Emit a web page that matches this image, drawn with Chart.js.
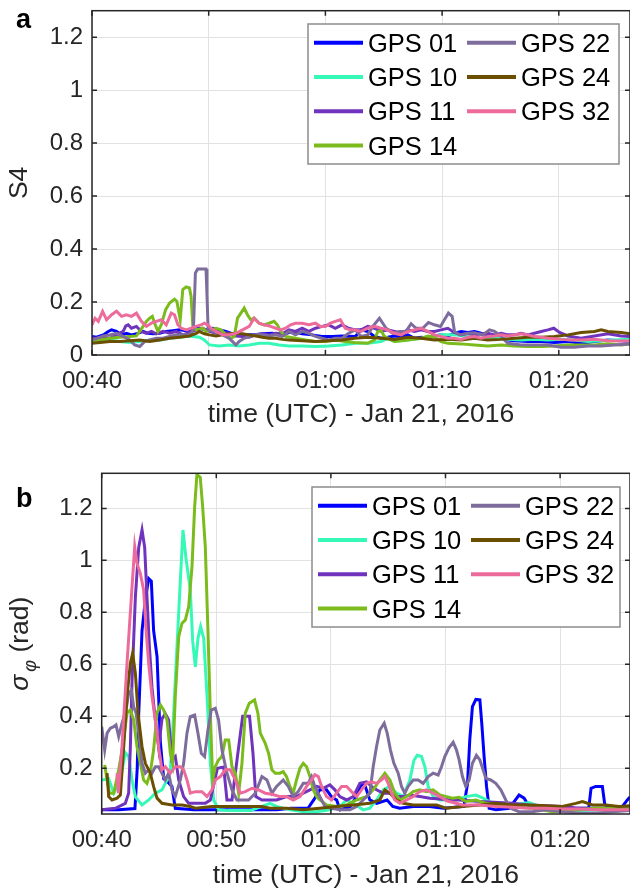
<!DOCTYPE html>
<html>
<head>
<meta charset="utf-8">
<script src="https://cdn.jsdelivr.net/npm/chart.js@4.4.1/dist/chart.umd.min.js"></script>
<style>
  html, body { margin: 0; padding: 0; background: #fff; overflow: hidden; }
  #wrap { position: relative; width: 630px; height: 891px; }
  canvas { position: absolute; left: 0; }
  #chartA { top: 0; }
  #chartB { top: 445px; }
</style>
</head>
<body>
<div id="wrap">
  <canvas id="chartA" width="630" height="445"></canvas>
  <canvas id="chartB" width="630" height="446"></canvas>
</div>
<script>
// Satellites (legend order, same in both panels)
const satLabels = ['GPS 01', 'GPS 10', 'GPS 11', 'GPS 14', 'GPS 22', 'GPS 24', 'GPS 32'];
const satColors = ['#0000ff', '#36f9b8', '#7033be', '#7bbb1c', '#7e6d9c', '#6b4f00', '#ec6b9b'];

// x axis: minutes after 00:40 UTC
const timeTicks = [0, 10, 20, 30, 40];
const timeTickLabels = ['00:40', '00:50', '01:00', '01:10', '01:20'];
const s4Ticks = [0, 0.2, 0.4, 0.6, 0.8, 1, 1.2];
const s4TickLabels = ['0', '0.2', '0.4', '0.6', '0.8', '1', '1.2'];
const phiTicks = [0.2, 0.4, 0.6, 0.8, 1, 1.2];
const phiTickLabels = ['0.2', '0.4', '0.6', '0.8', '1', '1.2'];

// Panel a - S4, points are [minutes after 00:40, value]
const s4Gps01 = [[0,0.07],[0.4,0.067],[0.97,0.076],[1.39,0.089],[1.68,0.095],[2.1,0.089],[2.53,0.076],[2.95,0.082],[3.38,0.076],[3.81,0.08],[4.38,0.089],[4.8,0.082],[5.23,0.08],[5.8,0.082],[6.36,0.089],[6.93,0.092],[7.5,0.095],[8.07,0.092],[8.64,0.098],[9.2,0.101],[9.77,0.095],[10.34,0.101],[10.91,0.095],[11.48,0.089],[12.05,0.08],[12.9,0.076],[13.75,0.076],[14.6,0.08],[15.45,0.082],[16.31,0.076],[17.16,0.089],[18.01,0.08],[18.86,0.076],[19.72,0.07],[20.57,0.07],[21.42,0.072],[22.56,0.07],[23.06,0.095],[23.63,0.089],[24.2,0.07],[24.77,0.063],[25.34,0.067],[25.91,0.072],[26.49,0.07],[27.06,0.076],[27.63,0.063],[28.2,0.067],[28.77,0.063],[29.34,0.072],[29.91,0.076],[30.49,0.072],[31.06,0.082],[31.63,0.089],[32.2,0.085],[32.77,0.089],[33.34,0.082],[33.91,0.076],[34.49,0.07],[35.06,0.063],[35.63,0.057],[36.2,0.054],[37.34,0.051],[38.49,0.051],[39.63,0.047],[40.77,0.051],[41.91,0.044],[43.06,0.051],[44.2,0.057],[45.34,0.054],[46.1,0.051]];
const s4Gps10 = [[0,0.057],[0.68,0.059],[1.53,0.057],[2.39,0.051],[3.24,0.047],[4.09,0.051],[4.94,0.057],[5.8,0.057],[6.65,0.063],[7.5,0.067],[8.35,0.072],[9.2,0.067],[9.63,0.057],[10.06,0.038],[10.91,0.034],[11.76,0.038],[12.61,0.034],[13.47,0.038],[14.32,0.044],[15.17,0.044],[16.02,0.038],[16.88,0.034],[18.01,0.034],[19.15,0.032],[20.28,0.034],[21.42,0.038],[22.56,0.044],[23.63,0.044],[24.77,0.051],[25.34,0.063],[25.91,0.051],[27.06,0.057],[28.2,0.063],[29.34,0.07],[29.91,0.076],[31.06,0.076],[32.2,0.07],[33.34,0.063],[34.49,0.067],[35.63,0.059],[36.77,0.057],[37.91,0.059],[39.06,0.057],[40.2,0.059],[41.34,0.057],[42.49,0.051],[43.63,0.054],[44.77,0.057],[46.1,0.059]];
const s4Gps11 = [[0,0.063],[0.4,0.063],[0.97,0.067],[1.53,0.063],[2.1,0.076],[2.67,0.089],[2.9,0.11],[3.1,0.114],[3.38,0.101],[3.81,0.108],[4.23,0.089],[4.66,0.082],[5.09,0.089],[5.51,0.08],[6.08,0.089],[6.65,0.082],[7.22,0.089],[7.78,0.076],[8.35,0.085],[8.92,0.095],[9.49,0.101],[10.06,0.089],[10.63,0.082],[11.19,0.085],[11.76,0.082],[12.33,0.072],[12.9,0.07],[13.47,0.067],[14.03,0.076],[14.6,0.08],[15.17,0.076],[15.74,0.082],[16.31,0.08],[16.88,0.095],[17.44,0.089],[18.01,0.101],[18.58,0.089],[19.15,0.101],[19.72,0.108],[20.28,0.114],[20.85,0.101],[21.42,0.114],[21.99,0.101],[22.56,0.095],[23.06,0.095],[23.63,0.108],[24.2,0.101],[24.77,0.089],[25.34,0.095],[25.91,0.089],[26.49,0.082],[27.06,0.095],[27.63,0.089],[28.2,0.095],[28.77,0.089],[29.34,0.089],[29.91,0.095],[30.49,0.101],[31.06,0.085],[31.63,0.076],[32.2,0.082],[32.77,0.076],[33.34,0.08],[33.91,0.082],[34.49,0.076],[35.06,0.082],[35.63,0.076],[36.2,0.076],[36.77,0.082],[37.34,0.076],[38.49,0.089],[39.06,0.095],[39.57,0.101],[40.06,0.085],[40.77,0.072],[41.91,0.063],[43.06,0.072],[44.2,0.08],[45.34,0.072],[46.1,0.07]];
const s4Gps14 = [[0,0.051],[0.68,0.057],[1.53,0.063],[2.39,0.067],[3.24,0.07],[3.81,0.072],[4.09,0.089],[4.38,0.108],[4.66,0.127],[4.94,0.139],[5.17,0.146],[5.37,0.12],[5.65,0.089],[5.94,0.114],[6.31,0.171],[6.65,0.196],[7.07,0.211],[7.27,0.203],[7.56,0.133],[7.78,0.247],[8.07,0.257],[8.35,0.253],[8.49,0.222],[8.64,0.108],[8.92,0.095],[9.49,0.101],[9.77,0.089],[10.2,0.095],[10.63,0.101],[11.05,0.095],[11.48,0.076],[11.9,0.063],[12.19,0.07],[12.47,0.139],[12.76,0.158],[13.04,0.177],[13.32,0.152],[13.61,0.133],[13.89,0.139],[14.32,0.12],[14.74,0.114],[15.17,0.12],[15.6,0.127],[15.88,0.114],[16.16,0.089],[16.59,0.07],[17.44,0.063],[18.3,0.057],[19.15,0.051],[20,0.051],[20.85,0.057],[21.7,0.051],[22.49,0.047],[23.63,0.044],[24.2,0.057],[24.49,0.089],[24.77,0.092],[25.06,0.07],[25.91,0.051],[27.06,0.057],[28.2,0.063],[28.77,0.072],[29.34,0.067],[29.91,0.051],[30.49,0.044],[31.63,0.042],[32.77,0.038],[33.91,0.034],[35.06,0.038],[36.2,0.034],[37.34,0.032],[38.49,0.032],[39.63,0.034],[40.77,0.038],[41.91,0.038],[43.06,0.038],[44.2,0.042],[45.34,0.038],[46.1,0.042]];
const s4Gps22 = [[0,0.057],[0.4,0.063],[0.97,0.072],[1.53,0.076],[2.1,0.082],[2.67,0.07],[3.24,0.057],[3.66,0.038],[4.09,0.032],[4.52,0.051],[4.94,0.057],[5.51,0.063],[6.08,0.063],[6.65,0.07],[7.22,0.076],[7.78,0.076],[8.35,0.076],[8.69,0.095],[8.86,0.31],[9.06,0.325],[9.77,0.325],[9.85,0.23],[9.95,0.095],[10.34,0.089],[10.77,0.082],[11.19,0.076],[11.76,0.063],[12.33,0.038],[12.61,0.051],[13.04,0.063],[13.47,0.07],[14.03,0.076],[14.6,0.076],[15.17,0.072],[15.74,0.076],[16.31,0.07],[16.88,0.089],[17.44,0.076],[18.01,0.089],[18.58,0.082],[19.15,0.07],[19.72,0.063],[20.28,0.057],[20.85,0.063],[21.42,0.063],[21.99,0.082],[22.56,0.095],[23.06,0.07],[23.63,0.076],[24.06,0.108],[24.63,0.139],[25.2,0.101],[25.77,0.082],[26.34,0.089],[26.91,0.089],[27.34,0.118],[27.77,0.101],[28.34,0.101],[28.83,0.123],[29.34,0.114],[29.86,0.108],[30.2,0.133],[30.54,0.158],[30.86,0.146],[31.06,0.089],[31.49,0.076],[32.2,0.082],[32.77,0.084],[33.49,0.076],[34.06,0.095],[34.49,0.089],[35.06,0.07],[35.63,0.044],[36.77,0.038],[37.91,0.038],[39.06,0.038],[40.2,0.029],[41.34,0.029],[42.49,0.034],[43.63,0.034],[44.77,0.038],[46.1,0.042]];
const s4Gps24 = [[0,0.044],[0.68,0.047],[1.53,0.051],[2.39,0.051],[3.24,0.054],[4.09,0.057],[4.94,0.051],[5.8,0.057],[6.65,0.063],[7.5,0.067],[8.35,0.072],[8.92,0.082],[9.2,0.089],[9.63,0.08],[10.06,0.076],[10.63,0.072],[11.19,0.076],[11.76,0.08],[12.33,0.082],[12.9,0.08],[13.47,0.076],[14.03,0.072],[14.6,0.067],[15.17,0.063],[15.74,0.063],[16.31,0.059],[16.88,0.057],[18.01,0.054],[19.15,0.051],[20.28,0.054],[21.42,0.057],[22.49,0.063],[23.63,0.067],[24.77,0.063],[25.91,0.059],[27.06,0.067],[28.2,0.063],[29.34,0.057],[30.49,0.059],[31.63,0.057],[32.77,0.063],[33.91,0.057],[35.06,0.059],[36.2,0.063],[37.34,0.067],[38.49,0.067],[39.63,0.07],[40.77,0.076],[41.91,0.085],[43.06,0.089],[43.63,0.095],[44.2,0.089],[45.34,0.085],[46.1,0.08]];
const s4Gps32 = [[0,0.114],[0.26,0.139],[0.54,0.127],[0.91,0.165],[1.25,0.133],[1.68,0.152],[2.1,0.165],[2.53,0.146],[2.95,0.152],[3.38,0.146],[3.81,0.158],[4.23,0.127],[4.66,0.108],[5.09,0.12],[5.51,0.127],[5.94,0.133],[6.36,0.114],[6.79,0.158],[7.07,0.152],[7.36,0.114],[7.64,0.101],[8.07,0.095],[8.49,0.101],[8.92,0.108],[9.35,0.114],[9.63,0.12],[9.91,0.114],[10.2,0.101],[10.63,0.089],[11.19,0.076],[11.76,0.076],[12.33,0.082],[12.9,0.095],[13.47,0.108],[13.89,0.139],[14.32,0.12],[14.74,0.114],[15.31,0.108],[15.74,0.101],[16.16,0.095],[16.59,0.101],[17.02,0.114],[17.44,0.12],[18.01,0.12],[18.58,0.114],[19.15,0.12],[19.57,0.108],[20,0.108],[20.43,0.12],[20.85,0.127],[21.28,0.133],[21.7,0.101],[22.13,0.095],[22.49,0.095],[23.06,0.089],[23.63,0.101],[24.2,0.108],[24.77,0.101],[25.34,0.095],[25.91,0.082],[26.49,0.076],[27.06,0.089],[27.63,0.095],[28.2,0.101],[28.77,0.089],[29.34,0.076],[29.91,0.07],[30.49,0.063],[31.06,0.063],[31.63,0.059],[32.2,0.067],[32.77,0.07],[33.34,0.063],[33.91,0.07],[34.49,0.072],[35.06,0.076],[35.63,0.072],[36.2,0.076],[36.77,0.08],[37.34,0.076],[37.91,0.07],[38.49,0.067],[39.06,0.063],[39.63,0.061],[40.2,0.059],[41.06,0.057],[41.91,0.057],[43.06,0.059],[44.2,0.054],[45.34,0.053],[46.1,0.053]];

// Panel b - sigma phi (rad), points are [minutes after 00:40, value]
const phiGps01 = [[0,0.04],[1.5,0.04],[2.9,0.045],[3.1,0.2],[3.23,0.41],[3.52,0.73],[3.81,0.85],[4.1,0.93],[4.33,0.92],[4.53,0.73],[4.83,0.63],[5.12,0.3],[5.41,0.16],[5.7,0.15],[6.13,0.13],[6.42,0.046],[8,0.04],[10,0.04],[12,0.04],[14,0.04],[15.3,0.04],[16.5,0.046],[18,0.046],[18.5,0.078],[19.04,0.117],[19.62,0.117],[20.06,0.09],[20.5,0.078],[20.8,0.04],[21.7,0.053],[22.2,0.09],[22.67,0.14],[23,0.13],[23.4,0.078],[24,0.065],[24.9,0.078],[25.4,0.053],[26,0.046],[27.2,0.053],[28.6,0.053],[29.8,0.046],[31.6,0.053],[31.92,0.14],[32.12,0.31],[32.35,0.437],[32.65,0.465],[33,0.463],[33.17,0.37],[33.37,0.245],[33.58,0.13],[33.81,0.046],[34.4,0.04],[35.55,0.046],[35.99,0.072],[36.42,0.097],[36.86,0.085],[37.3,0.053],[38.2,0.046],[39.3,0.043],[40.5,0.043],[41.7,0.046],[42.5,0.046],[42.7,0.123],[43.11,0.13],[43.69,0.13],[43.9,0.06],[44.56,0.046],[45.44,0.053],[45.87,0.078],[46.1,0.09]];
const phiGps10 = [[0,0.155],[0.61,0.16],[1.05,0.104],[1.63,0.155],[2.06,0.26],[2.35,0.245],[2.65,0.155],[2.94,0.09],[3.52,0.059],[4.1,0.078],[4.68,0.104],[5.26,0.117],[5.7,0.155],[5.99,0.194],[6.28,0.41],[6.57,0.67],[6.86,0.92],[7.09,1.117],[7.35,1.01],[7.73,0.886],[7.94,0.69],[8.17,0.59],[8.4,0.7],[8.63,0.745],[8.9,0.7],[9.19,0.48],[9.48,0.22],[9.77,0.078],[10.2,0.04],[11,0.037],[13,0.037],[14.68,0.065],[15.26,0.053],[16.42,0.04],[17.59,0.033],[18.75,0.033],[19.91,0.04],[20.78,0.053],[21.37,0.078],[21.95,0.065],[22.82,0.04],[23.4,0.046],[23.98,0.078],[24.56,0.117],[25.15,0.13],[25.73,0.104],[26.31,0.091],[26.89,0.155],[27.24,0.23],[27.53,0.25],[27.91,0.245],[28.2,0.206],[28.49,0.13],[28.92,0.091],[29.51,0.078],[30.09,0.078],[30.9,0.078],[31.77,0.091],[32.65,0.097],[33.28,0.085],[34.1,0.065],[35.84,0.059],[37.3,0.068],[38.17,0.053],[39.33,0.04],[41.66,0.037],[44.56,0.04],[46.1,0.046]];
const phiGps11 = [[0,0.04],[1.19,0.046],[2.06,0.065],[2.35,0.104],[2.5,0.28],[2.65,0.54],[2.94,0.86],[3.23,1.05],[3.52,1.117],[3.75,1.05],[3.95,0.86],[4.16,0.67],[4.39,0.51],[4.68,0.386],[4.97,0.28],[5.26,0.39],[5.55,0.41],[5.84,0.386],[6.13,0.232],[6.42,0.245],[6.72,0.155],[7.15,0.091],[7.59,0.065],[8.17,0.065],[9.04,0.065],[9.48,0.078],[10.1,0.2],[10.64,0.205],[10.93,0.078],[11.37,0.078],[11.8,0.23],[12.3,0.4],[12.9,0.4],[13.2,0.258],[13.45,0.091],[13.98,0.078],[14.56,0.078],[15.26,0.078],[16.13,0.091],[17,0.091],[17.59,0.104],[18.17,0.117],[18.75,0.13],[19.33,0.123],[19.91,0.136],[20.35,0.117],[20.78,0.091],[21.37,0.078],[21.95,0.091],[22.53,0.142],[23.11,0.148],[23.55,0.13],[23.98,0.117],[24.56,0.104],[25.15,0.104],[25.73,0.091],[26.31,0.091],[26.89,0.097],[27.76,0.091],[28.63,0.085],[29.51,0.082],[30.38,0.078],[31.19,0.078],[33,0.072],[35.84,0.065],[37.3,0.059],[38.75,0.056],[40.2,0.053],[41.66,0.046],[43.11,0.046],[46.1,0.046]];
const phiGps14 = [[0.26,0.213],[0.47,0.155],[0.67,0.104],[1.05,0.104],[1.48,0.194],[1.83,0.283],[2.21,0.412],[2.5,0.424],[2.79,0.386],[3.08,0.283],[3.37,0.219],[3.66,0.155],[3.95,0.142],[4.24,0.181],[4.53,0.271],[4.83,0.412],[5.12,0.444],[5.41,0.424],[5.7,0.386],[5.99,0.258],[6.19,0.219],[6.42,0.475],[6.72,0.706],[7.01,0.758],[7.3,0.771],[7.59,0.822],[7.88,0.976],[8.11,1.206],[8.31,1.33],[8.6,1.32],[8.81,1.206],[9.04,1.053],[9.27,0.732],[9.48,0.412],[9.68,0.155],[9.91,0.206],[10.2,0.232],[10.49,0.245],[10.78,0.309],[11.08,0.309],[11.37,0.206],[11.66,0.181],[11.95,0.104],[12.24,0.219],[12.53,0.412],[12.88,0.45],[13.34,0.463],[13.63,0.412],[13.84,0.335],[14.27,0.296],[14.56,0.258],[14.85,0.194],[15.15,0.181],[15.55,0.181],[15.84,0.187],[16.13,0.168],[16.42,0.13],[16.71,0.104],[17,0.155],[17.3,0.2],[17.59,0.219],[17.88,0.206],[18.17,0.168],[18.46,0.117],[18.75,0.091],[19.04,0.078],[19.62,0.059],[20.49,0.053],[21.37,0.059],[22.24,0.078],[23.11,0.091],[23.69,0.117],[24.27,0.155],[24.71,0.181],[25.15,0.155],[25.58,0.104],[26.02,0.078],[26.6,0.091],[27.18,0.11],[27.76,0.117],[28.34,0.11],[28.92,0.117],[29.51,0.097],[30.09,0.091],[30.61,0.085],[31.19,0.088],[31.77,0.072],[32.65,0.078],[33.52,0.065],[34.68,0.059],[35.84,0.053],[37.59,0.046],[39.33,0.033],[41.66,0.04],[43.11,0.046],[44.56,0.046],[46.1,0.043]];
const phiGps22 = [[0,0.36],[0.26,0.271],[0.47,0.335],[0.76,0.354],[1.05,0.36],[1.25,0.367],[1.48,0.322],[1.77,0.373],[2.12,0.424],[2.35,0.488],[2.59,0.501],[2.79,0.437],[3,0.412],[3.23,0.335],[3.52,0.219],[3.81,0.181],[4.1,0.194],[4.39,0.181],[4.68,0.206],[4.97,0.206],[5.26,0.181],[5.55,0.155],[5.84,0.181],[6.13,0.117],[6.42,0.091],[6.86,0.155],[7.15,0.219],[7.44,0.335],[7.73,0.399],[8.11,0.405],[8.4,0.335],[8.69,0.258],[8.98,0.245],[9.27,0.347],[9.56,0.424],[9.91,0.431],[10.2,0.386],[10.49,0.271],[10.93,0.181],[11.37,0.117],[11.8,0.078],[12.24,0.078],[12.82,0.078],[13.4,0.104],[13.98,0.168],[14.42,0.155],[14.85,0.104],[15.26,0.13],[15.84,0.155],[16.28,0.13],[16.71,0.091],[17.15,0.11],[17.59,0.142],[18.02,0.142],[18.31,0.168],[18.6,0.13],[19.04,0.091],[19.48,0.053],[20.06,0.046],[20.78,0.04],[21.66,0.04],[22.24,0.053],[22.82,0.078],[23.4,0.104],[23.69,0.206],[23.98,0.283],[24.27,0.347],[24.65,0.373],[24.91,0.335],[25.2,0.27],[25.49,0.22],[25.87,0.181],[26.16,0.13],[26.45,0.104],[26.74,0.13],[27.18,0.155],[27.62,0.155],[28.05,0.142],[28.49,0.168],[28.92,0.181],[29.36,0.174],[29.65,0.206],[29.94,0.245],[30.32,0.28],[30.67,0.3],[30.96,0.27],[31.19,0.232],[31.48,0.168],[31.77,0.13],[32.06,0.155],[32.35,0.219],[32.7,0.25],[33,0.232],[33.28,0.194],[33.52,0.161],[33.95,0.155],[34.39,0.142],[34.83,0.117],[35.26,0.078],[35.7,0.046],[36.42,0.033],[37.59,0.033],[38.75,0.04],[40.2,0.033],[41.66,0.027],[43.11,0.027],[44.56,0.033],[46.1,0.037]];
const phiGps24 = [[0.47,0.181],[0.61,0.091],[0.9,0.078],[1.34,0.085],[1.63,0.097],[1.92,0.283],[2.21,0.476],[2.5,0.604],[2.7,0.642],[2.94,0.565],[3.17,0.412],[3.52,0.283],[3.81,0.219],[4.24,0.181],[4.53,0.129],[4.83,0.085],[5.26,0.065],[6.13,0.059],[7.01,0.059],[7.73,0.053],[8.17,0.046],[9.62,0.053],[11.08,0.053],[12.53,0.053],[13.98,0.053],[14.68,0.046],[16.13,0.046],[17.59,0.04],[19.04,0.046],[20.49,0.053],[21.95,0.059],[23.4,0.065],[24.27,0.078],[24.71,0.117],[25.15,0.104],[25.73,0.078],[26.31,0.065],[27.18,0.059],[28.05,0.059],[29.22,0.059],[30.03,0.046],[31.48,0.053],[32.94,0.059],[34.39,0.065],[35.84,0.059],[37.3,0.059],[38.75,0.056],[40.2,0.053],[41.37,0.065],[41.95,0.072],[42.82,0.059],[43.98,0.059],[45.15,0.053],[46.1,0.056]];
const phiGps32 = [[1.34,0.181],[1.45,0.104],[1.77,0.283],[2.21,0.604],[2.59,0.86],[2.88,1.053],[3.08,0.988],[3.37,0.95],[3.66,0.886],[3.87,0.732],[4.1,0.604],[4.39,0.476],[4.68,0.386],[4.97,0.283],[5.26,0.194],[5.55,0.206],[5.99,0.181],[6.42,0.206],[6.86,0.206],[7.15,0.194],[7.44,0.155],[7.73,0.104],[8.17,0.11],[8.75,0.11],[9.19,0.091],[9.62,0.117],[9.91,0.155],[10.35,0.168],[10.78,0.194],[11.22,0.194],[11.66,0.155],[12.09,0.104],[12.53,0.11],[13.11,0.123],[13.69,0.117],[14.27,0.104],[14.85,0.1],[15.55,0.091],[16.13,0.091],[16.71,0.078],[17.3,0.091],[17.88,0.13],[18.31,0.155],[18.6,0.175],[18.9,0.168],[19.19,0.13],[19.62,0.091],[20.06,0.078],[20.49,0.104],[20.93,0.13],[21.37,0.13],[21.8,0.11],[22.24,0.091],[22.67,0.117],[23.11,0.142],[23.55,0.148],[23.98,0.142],[24.42,0.155],[24.71,0.168],[25,0.142],[25.29,0.104],[25.58,0.078],[26.02,0.065],[26.6,0.078],[27.18,0.091],[27.76,0.11],[28.34,0.117],[28.92,0.104],[29.51,0.091],[30.1,0.075],[31.48,0.059],[32.94,0.059],[34.39,0.053],[35.84,0.05],[37.3,0.046],[38.75,0.046],[40.2,0.043],[41.66,0.043],[43.11,0.04],[44.56,0.04],[46.1,0.04]];

const FONT = '"Liberation Sans", Arial, Helvetica, sans-serif';
const INK = '#262626';
Chart.defaults.font.family = FONT;
Chart.defaults.color = INK;

function makeDatasets(series) {
  return series.map((pts, i) => ({
    label: satLabels[i],
    data: pts.map(p => ({ x: p[0], y: p[1] })),
    borderColor: satColors[i],
    backgroundColor: satColors[i],
    borderWidth: 3,
    pointRadius: 0,
    tension: 0,
    fill: false,
    order: series.length - i   // later satellites drawn on top, like matlab
  }));
}

// axes box with inward tick marks on all four sides
const boxPlugin = {
  id: 'matlabBox',
  afterDatasetsDraw(chart) {
    const { ctx, chartArea: a, scales } = chart;
    const len = 5;
    ctx.save();
    ctx.strokeStyle = INK;
    ctx.lineWidth = 1.5;
    ctx.strokeRect(a.left, a.top, a.right - a.left, a.bottom - a.top);
    ctx.beginPath();
    scales.x.ticks.forEach(t => {
      const px = scales.x.getPixelForValue(t.value);
      ctx.moveTo(px, a.bottom); ctx.lineTo(px, a.bottom - len);
      ctx.moveTo(px, a.top); ctx.lineTo(px, a.top + len);
    });
    scales.y.ticks.forEach(t => {
      const py = scales.y.getPixelForValue(t.value);
      ctx.moveTo(a.left, py); ctx.lineTo(a.left + len, py);
      ctx.moveTo(a.right, py); ctx.lineTo(a.right - len, py);
    });
    ctx.stroke();
    ctx.restore();
  }
};

// two column legend, filled column by column
const legendPlugin = {
  id: 'gpsLegend',
  afterDatasetsDraw(chart, args, o) {
    const ctx = chart.ctx;
    ctx.save();
    ctx.fillStyle = '#fff';
    ctx.fillRect(o.x, o.y, o.w, o.h);
    ctx.strokeStyle = '#8c8c8c';
    ctx.lineWidth = 1.5;
    ctx.strokeRect(o.x, o.y, o.w, o.h);
    ctx.font = o.fontSize + 'px ' + FONT;
    ctx.textBaseline = 'middle';
    chart.data.datasets.forEach((ds, i) => {
      const col = i < o.rows ? 0 : 1;
      const row = col ? i - o.rows : i;
      const lx = o.x + o.padX + col * o.colW;
      const ly = o.y + o.firstRow + row * o.rowH;
      ctx.strokeStyle = ds.borderColor;
      ctx.lineWidth = 4;
      ctx.beginPath();
      ctx.moveTo(lx, ly);
      ctx.lineTo(lx + o.lineLen, ly);
      ctx.stroke();
      ctx.fillStyle = '#000';
      ctx.fillText(ds.label, lx + o.lineLen + o.gap, ly + 2);
    });
    ctx.restore();
  }
};

// panel letter ("a", "b") and the optional sigma_phi y label
const tagPlugin = {
  id: 'panelTag',
  afterDraw(chart, args, o) {
    const ctx = chart.ctx;
    ctx.save();
    ctx.fillStyle = '#000';
    ctx.font = 'bold 27px ' + FONT;
    ctx.textBaseline = 'alphabetic';
    ctx.fillText(o.text, o.x, o.y);
    if (o.sigma) {
      const a = chart.chartArea;
      const big = 'italic 26.5px ' + FONT;
      const small = 'italic 18px ' + FONT;
      const norm = '26.5px ' + FONT;
      ctx.fillStyle = INK;
      ctx.font = big; const w1 = ctx.measureText('\u03c3').width;
      ctx.font = small; const w2 = ctx.measureText('\u03c6').width;
      ctx.font = norm; const w3 = ctx.measureText(' (rad)').width;
      const total = w1 + 3 + w2 + w3;
      ctx.translate(o.sigma.x, (a.top + a.bottom) / 2);
      ctx.rotate(-Math.PI / 2);
      let cx = -total / 2;
      ctx.font = big; ctx.fillText('\u03c3', cx, 0); cx += w1 + 3;
      ctx.font = small; ctx.fillText('\u03c6', cx, 8); cx += w2;
      ctx.font = norm; ctx.fillText(' (rad)', cx, 0);
    }
    ctx.restore();
  }
};

function panelOptions(cfg) {
  return {
    responsive: false,
    animation: false,
    layout: { padding: { top: cfg.top, left: 0, right: 0, bottom: 0 } },
    plugins: {
      legend: { display: false },
      tooltip: { enabled: false },
      gpsLegend: cfg.legend,
      panelTag: cfg.tag
    },
    scales: {
      x: {
        type: 'linear',
        min: 0,
        max: 46.1,
        afterBuildTicks: s => { s.ticks = timeTicks.map(v => ({ value: v })); },
        afterFit: s => { s.height = cfg.xHeight; s.paddingLeft = 0; s.paddingRight = 0; },
        ticks: {
          callback: (v, i) => timeTickLabels[i],
          font: { size: 24, lineHeight: 1 },
          color: INK,
          padding: cfg.xTickPad,
          maxRotation: 0,
          autoSkip: false
        },
        grid: { color: '#e2e2e2', lineWidth: 1, drawTicks: false },
        border: { display: false },
        title: {
          display: true,
          text: 'time (UTC) - Jan 21, 2016',
          font: { size: 26.5, lineHeight: 1 },
          color: INK,
          padding: { top: 0, bottom: cfg.xTitlePad }
        }
      },
      y: {
        type: 'linear',
        min: cfg.yMin,
        max: cfg.yMax,
        afterBuildTicks: s => { s.ticks = cfg.yTicks.map(v => ({ value: v })); },
        afterFit: s => { s.width = cfg.yWidth; s.paddingTop = 0; s.paddingBottom = 0; },
        ticks: {
          callback: (v, i) => cfg.yTickLabels[i],
          font: { size: 24, lineHeight: 1 },
          color: INK,
          padding: 9
        },
        grid: { color: '#e2e2e2', lineWidth: 1, drawTicks: false },
        border: { display: false },
        title: cfg.yTitle
      }
    }
  };
}

// Panel a: S4
new Chart(document.getElementById('chartA'), {
  type: 'line',
  data: { datasets: makeDatasets([s4Gps01, s4Gps10, s4Gps11, s4Gps14, s4Gps22, s4Gps24, s4Gps32]) },
  options: panelOptions({
    top: 10.7, xHeight: 90, yWidth: 92, xTickPad: 14.5, xTitlePad: 16.75,
    yMin: 0, yMax: 1.3, yTicks: s4Ticks, yTickLabels: s4TickLabels,
    yTitle: { display: true, text: 'S4', font: { size: 26.5, lineHeight: 1 }, color: INK, padding: { top: 6.5, bottom: 0 } },
    legend: { x: 308, y: 24, w: 311, h: 140, rows: 4, padX: 6, colW: 153, firstRow: 18.7, rowH: 34.3, lineLen: 49, gap: 5, fontSize: 25.5 },
    tag: { text: 'a', x: 16, y: 28 }
  }),
  plugins: [boxPlugin, legendPlugin, tagPlugin]
});

// Panel b: sigma phi
new Chart(document.getElementById('chartB'), {
  type: 'line',
  data: { datasets: makeDatasets([phiGps01, phiGps10, phiGps11, phiGps14, phiGps22, phiGps24, phiGps32]) },
  options: panelOptions({
    top: 28.3, xHeight: 77, yWidth: 101.7, xTickPad: 14, xTitlePad: 2.4,
    yMin: 0.024, yMax: 1.335, yTicks: phiTicks, yTickLabels: phiTickLabels,
    yTitle: { display: false },
    legend: { x: 312, y: 42, w: 308, h: 140, rows: 4, padX: 6, colW: 153, firstRow: 18.7, rowH: 34.3, lineLen: 49, gap: 5, fontSize: 25.5 },
    tag: { text: 'b', x: 16, y: 62, sigma: { x: 28 } }
  }),
  plugins: [boxPlugin, legendPlugin, tagPlugin]
});
</script>
</body>
</html>
